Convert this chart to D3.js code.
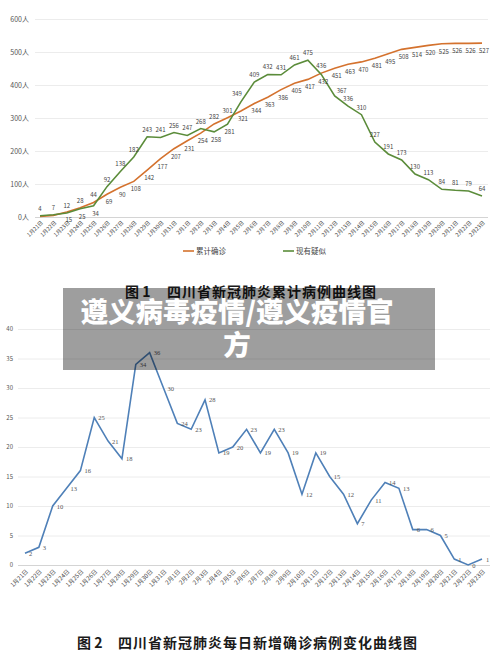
<!DOCTYPE html>
<html>
<head>
<meta charset="utf-8">
<script src="https://cdn.jsdelivr.net/npm/d3@7"></script>
<style>
  html, body { margin: 0; padding: 0; background: #fff; }
  svg { display: block; }
</style>
</head>
<body>
<script>
// ---------- DATA ----------
const dates = ["1月21日","1月22日","1月23日","1月24日","1月25日","1月26日","1月27日","1月28日","1月29日","1月30日","1月31日",
  "2月1日","2月2日","2月3日","2月4日","2月5日","2月6日","2月7日","2月8日","2月9日","2月10日","2月11日","2月12日",
  "2月13日","2月14日","2月15日","2月16日","2月17日","2月18日","2月19日","2月20日","2月21日","2月22日","2月23日"];

// Figure 1: cumulative confirmed (累计确诊) and current suspected (现有疑似)
const cumulative = [2,5,15,28,44,69,90,108,142,177,207,231,254,282,301,321,344,363,386,405,417,436,451,463,470,481,495,508,514,520,525,526,526,527];
const suspected  = [4,7,12,25,34,92,138,182,243,241,256,247,268,258,281,349,409,432,431,461,475,432,367,336,310,227,191,173,130,113,84,81,79,64];
// label placement codes (a = above, b = below, r = right, l = left-above, n = none)
const cumulativeLabelPos = ["n","n","b","a","a","b","b","b","b","b","b","b","b","a","a","b","b","b","b","b","b","a","b","b","b","b","b","b","b","b","b","b","b","b"];
const suspectedLabelPos  = ["a","a","a","b","b","a","a","a","a","a","a","a","a","b","b","l","a","a","a","a","a","b","r","a","a","a","a","a","a","a","a","a","a","a"];
const fig1Ticks = [0,100,200,300,400,500,600];
const fig1Series = ["累计确诊","现有疑似"];

// Figure 2: daily new confirmed
const dailyNew = [2,3,10,13,16,25,21,18,34,36,30,24,23,28,19,20,23,19,23,19,12,19,15,12,7,11,14,13,6,6,5,1,0,1];
const fig2Ticks = [0,5,10,15,20,25,30,35,40];

const title1Prefix = "图 1", title1Text = "四川省新冠肺炎累计病例曲线图";
const title2Prefix = "图 2", title2Text = "四川省新冠肺炎每日新增确诊病例变化曲线图";
const overlayLines = ["遵义病毒疫情/遵义疫情官", "方"];

// ---------- DRAW ----------
const W = 500, H = 660;
const svg = d3.select("body").append("svg").attr("width", W).attr("height", H);
const sans = "'Noto Sans CJK SC', 'Noto Sans', sans-serif";
const serif = "'Liberation Serif', 'DejaVu Serif', serif";

const orange = "#d4722e", green = "#5b8c3a", blue = "#4f80b8";

// ===== Figure 1 =====
const x1 = d3.scalePoint().domain(dates).range([40, 482]);
const y1 = d3.scaleLinear().domain([0, 600]).range([217, 19]);
const g1 = svg.append("g");

const yAx1 = g1.append("g").attr("transform", "translate(35,0)")
  .call(d3.axisLeft(y1).tickValues(fig1Ticks).tickSize(-(488 - 35)).tickPadding(6).tickFormat(d => d + "人"));
yAx1.select(".domain").remove();
yAx1.selectAll(".tick line").attr("stroke", d => d === 0 ? "#d4d4d4" : "#ececec");
yAx1.selectAll(".tick text").attr("fill", "#555").style("font-family", sans).style("font-size", "7px");

const xAx1 = g1.append("g").attr("transform", `translate(0,${y1(0)})`)
  .call(d3.axisBottom(x1).tickSize(0).tickPadding(0));
xAx1.select(".domain").remove();
xAx1.selectAll(".tick text")
  .attr("y", 0).attr("dy", 0)
  .attr("text-anchor", "end")
  .attr("transform", "translate(3,6) rotate(-45)")
  .attr("fill", "#444").style("font-family", sans).style("font-size", "5.5px");

const line1 = (arr) => d3.line().x((d, i) => x1(dates[i])).y(d => y1(d))(arr);
g1.append("path").attr("d", line1(cumulative)).attr("fill", "none").attr("stroke", orange).attr("stroke-width", 1.6);
g1.append("path").attr("d", line1(suspected)).attr("fill", "none").attr("stroke", green).attr("stroke-width", 1.6);

const offsets = { a: [0, -5], b: [2, 10], r: [7, -3], l: [-4, -6] };
function drawLabels1(arr, codes) {
  const items = arr.map((v, i) => ({ v, date: dates[i], code: codes[i] })).filter(d => d.code !== "n");
  g1.append("g").selectAll("text").data(items).join("text")
    .attr("x", d => x1(d.date) + offsets[d.code][0])
    .attr("y", d => y1(d.v) + offsets[d.code][1])
    .attr("text-anchor", "middle")
    .attr("fill", "#444").style("font-family", sans).style("font-size", "6px")
    .text(d => d.v);
}
drawLabels1(cumulative, cumulativeLabelPos);
drawLabels1(suspected, suspectedLabelPos);

// legend
const legColors = [orange, green];
const legX = d3.scalePoint().domain(fig1Series).range([183, 283]);
const leg = g1.append("g").selectAll("g").data(fig1Series).join("g")
  .attr("transform", d => `translate(${legX(d)},251)`);
leg.append("line").attr("x1", 0).attr("x2", 11).attr("y1", 0).attr("y2", 0)
  .attr("stroke", (d, i) => legColors[i]).attr("stroke-width", 1.6);
leg.append("text").attr("x", 13).attr("y", 2.5).attr("fill", "#444")
  .style("font-family", sans).style("font-size", "7.5px").text(d => d);

// title 1
const t1 = svg.append("text").attr("y", 297).attr("fill", "#1a1a1a")
  .style("font-family", sans).style("font-weight", 700).style("font-size", "14px");
t1.append("tspan").attr("x", 125).text(title1Prefix);
t1.append("tspan").attr("x", 167).style("letter-spacing", "1px").text(title1Text);

// ===== Figure 2 =====
const x2 = d3.scalePoint().domain(dates).range([25, 482]);
const y2 = d3.scaleLinear().domain([0, 40]).range([565, 329]);
const g2 = svg.append("g");

const yAx2 = g2.append("g").attr("transform", "translate(18,0)")
  .call(d3.axisLeft(y2).tickValues(fig2Ticks).tickSize(-(490 - 18)).tickPadding(5));
yAx2.select(".domain").remove();
yAx2.selectAll(".tick line").attr("stroke", d => d === 0 ? "#d4d4d4" : "#ececec");
yAx2.selectAll(".tick text").attr("fill", "#555").style("font-family", sans).style("font-size", "6px");

const xAx2 = g2.append("g").attr("transform", `translate(0,${y2(0)})`)
  .call(d3.axisBottom(x2).tickSize(0).tickPadding(0));
xAx2.select(".domain").remove();
xAx2.selectAll(".tick text")
  .attr("y", 0).attr("dy", 0)
  .attr("text-anchor", "end")
  .attr("transform", "translate(3,7) rotate(-45)")
  .attr("fill", "#444").style("font-family", sans).style("font-size", "6px");

g2.append("path")
  .attr("d", d3.line().x((d, i) => x2(dates[i])).y(d => y2(d))(dailyNew))
  .attr("fill", "none").attr("stroke", blue).attr("stroke-width", 1.6);

g2.append("g").selectAll("text").data(dailyNew.map((v, i) => ({ v, date: dates[i] }))).join("text")
  .attr("x", d => x2(d.date) + 4)
  .attr("y", d => y2(d.v) + 2.5)
  .attr("fill", "#555").style("font-family", serif).style("font-size", "6.5px")
  .text(d => d.v);

// title 2
const t2 = svg.append("text").attr("y", 648).attr("fill", "#1a1a1a")
  .style("font-family", sans).style("font-weight", 700).style("font-size", "14px");
t2.append("tspan").attr("x", 77).text(title2Prefix);
t2.append("tspan").attr("x", 118).style("letter-spacing", "1px").text(title2Text);

// ===== Overlay =====
svg.append("rect").attr("x", 63).attr("y", 288).attr("width", 372).attr("height", 82)
  .attr("fill", "rgba(0,0,0,0.38)");
svg.append("g").selectAll("text").data(overlayLines).join("text")
  .attr("x", 237).attr("y", (d, i) => 322 + i * 33)
  .attr("text-anchor", "middle").attr("fill", "#fff")
  .style("font-family", sans).style("font-weight", 900).style("font-size", "27.5px")
  .text(d => d);
</script>
</body>
</html>
